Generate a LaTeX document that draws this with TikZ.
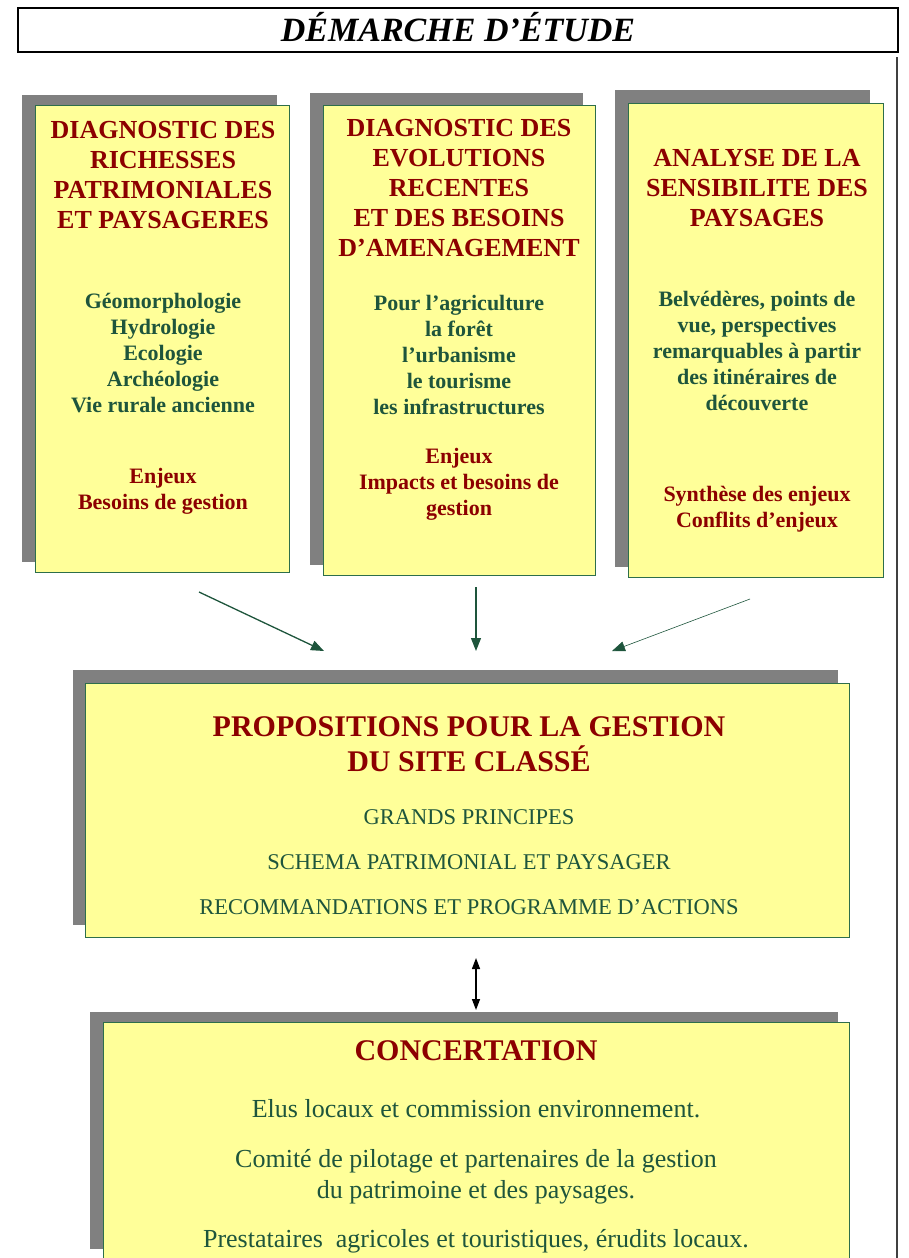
\documentclass[tikz,border=0pt]{standalone}
\usepackage{fontspec}
\setmainfont{Liberation Serif}
\usetikzlibrary{arrows.meta}

\definecolor{boxfill}{RGB}{255,255,153}
\definecolor{shadowgray}{RGB}{128,128,128}
\definecolor{darkred}{RGB}{140,0,0}
\definecolor{darkgreen}{RGB}{30,85,60}
\definecolor{rimgreen}{RGB}{45,110,75}

\tikzset{
  panel/.style={draw=rimgreen, fill=boxfill, line width=0.9pt, inner sep=0pt},
  shade/.style={fill=shadowgray},
  headtext/.style={text=darkred, font=\bfseries\fontsize{26}{30}\selectfont, align=center, inner sep=0pt, anchor=north},
  greentext/.style={text=darkgreen, font=\bfseries\fontsize{22}{26}\selectfont, align=center, inner sep=0pt, anchor=north},
  redtext/.style={text=darkred, font=\bfseries\fontsize{22}{26}\selectfont, align=center, inner sep=0pt, anchor=north},
  flow/.style={draw=darkgreen, line width=1.3pt, -{Triangle[length=13pt,width=10pt]}}
}

\begin{document}
\begin{tikzpicture}[x=1pt,y=-1pt]
  \useasboundingbox (0,0) rectangle (908,1258);

  % Title frame
  \node[draw=black, line width=2pt, minimum width=880pt, minimum height=44pt, inner sep=0pt,
        text height=22.5pt, text depth=0pt,
        font=\bfseries\itshape\fontsize{34}{40}\selectfont] (title) at (458,30) {DÉMARCHE D’ÉTUDE};
  % Right margin rule
  \draw[black!75, line width=1.2pt] (897,57) -- (897,1262);

  % Three diagnostic boxes with their shadows
  \fill[shade] (22,95) rectangle (277,562);
  \node[panel, minimum width=254pt, minimum height=467pt] (rich) at (162,338.5) {};
  \fill[shade] (310,93) rectangle (583,565);
  \node[panel, minimum width=272pt, minimum height=470pt] (evol) at (459,340) {};
  \fill[shade] (615,90) rectangle (870,567);
  \node[panel, minimum width=255pt, minimum height=474pt] (sens) at (755.5,340) {};

  % Box 1 texts
  \node[headtext] (richhead) at (163,121) {DIAGNOSTIC DES\\RICHESSES\\PATRIMONIALES\\ET PAYSAGERES};
  \node[greentext] (richlist) at (163,293) {Géomorphologie\\Hydrologie\\Ecologie\\Archéologie\\Vie rurale ancienne};
  \node[redtext] (richstake) at (163,468) {Enjeux\\Besoins de gestion};

  % Box 2 texts
  \node[headtext] (evolhead) at (459,119) {DIAGNOSTIC DES\\EVOLUTIONS\\RECENTES\\ET DES BESOINS\\D’AMENAGEMENT};
  \node[greentext] (evollist) at (459,295) {Pour l’agriculture\\la forêt\\l’urbanisme\\le tourisme\\les infrastructures};
  \node[redtext] (evolstake) at (459,448) {Enjeux\\Impacts et besoins de\\gestion};

  % Box 3 texts
  \node[headtext] (senshead) at (757,149) {ANALYSE DE LA\\SENSIBILITE DES\\PAYSAGES};
  \node[greentext] (senslist) at (757,291) {Belvédères, points de\\vue, perspectives\\remarquables à partir\\des itinéraires de\\découverte};
  \node[redtext] (sensstake) at (757,486) {Synthèse des enjeux\\Conflits d’enjeux};

  % Arrows towards the proposals
  \coordinate (f1s) at (199,592);
  \coordinate (f1e) at (324,651);
  \coordinate (f2s) at (476,587);
  \coordinate (f2e) at (476,651);
  \coordinate (f3s) at (750,599);
  \coordinate (f3e) at (612,651);
  \draw[flow] (f1s) -- (f1e);
  \draw[flow] (f2s) -- (f2e);
  \draw[flow, line width=0.6pt, -{Triangle[length=13pt,width=10pt]}] (f3s) -- (f3e);

  % Proposals box
  \fill[shade] (73,670) rectangle (838,925);
  \node[panel, minimum width=764pt, minimum height=254pt] (prop) at (467,810) {};
  \node[headtext, font=\bfseries\fontsize{30}{35}\selectfont] (prophead) at (469,716) {PROPOSITIONS POUR LA GESTION\\DU SITE CLASSÉ};
  \node[text=darkgreen, font=\fontsize{22.5}{45}\selectfont, align=center, inner sep=0pt, anchor=north] (proplist) at (469,809)
       {GRANDS PRINCIPES\\SCHEMA PATRIMONIAL ET PAYSAGER\\RECOMMANDATIONS ET PROGRAMME D’ACTIONS};

  % Two-way link
  \coordinate (linktop) at (476,958);
  \coordinate (linkbot) at (476,1010);
  \draw[black, line width=1.4pt, {Triangle[length=11pt,width=8pt]}-{Triangle[length=11pt,width=8pt]}] (linktop) -- (linkbot);

  % Concertation box
  \fill[shade] (90,1012) rectangle (838,1249);
  \node[panel, minimum width=746pt, minimum height=250pt] (conc) at (476,1147) {};
  \node[headtext, font=\bfseries\fontsize{30}{35}\selectfont] (conchead) at (476,1040) {CONCERTATION};
  \node[text=darkgreen, font=\fontsize{26}{31}\selectfont, align=center, inner sep=0pt, anchor=north] (conclist) at (476,1099)
       {Elus locaux et commission environnement.\\[19pt]Comité de pilotage et partenaires de la gestion\\du patrimoine et des paysages.\\[18pt]Prestataires\ \ agricoles et touristiques, érudits locaux.};
\end{tikzpicture}
\end{document}
